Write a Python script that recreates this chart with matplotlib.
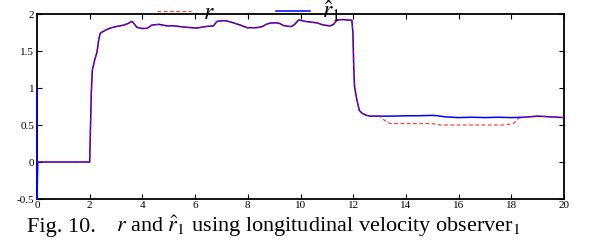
import matplotlib
matplotlib.use("Agg")
import matplotlib.pyplot as plt
import numpy as np

plt.rcParams['font.family'] = ['Liberation Serif', 'DejaVu Serif']
plt.rcParams['mathtext.fontset'] = 'stix'

# ---- data ----
# start of the estimate (observer transient at t=0)
t_start_hat = [0.0, 0.0, 0.03]
v_start_hat = [1.0, -0.5, 0.0]
t_start_r = [0.0, 0.05]
v_start_r = [0.0, 0.0]

# shared section (both signals coincide)
t_high = [2.00, 2.03, 2.06, 2.10, 2.19, 2.28, 2.34, 2.40, 2.59, 2.78, 3.00, 3.16, 3.29,
          3.45, 3.60, 3.67, 3.79, 3.98, 4.17, 4.36, 4.62, 4.93, 5.18, 5.44, 5.69, 6.07,
          6.39, 6.70, 6.83, 7.08, 7.21, 7.46, 7.72, 7.97, 8.35, 8.55, 8.70, 8.88, 9.11,
          9.22, 9.35, 9.50, 9.65, 9.78, 9.93, 10.18, 10.40, 10.63, 10.75, 10.88, 11.13,
          11.25, 11.39, 11.60, 11.77, 11.95, 11.99, 12.02, 12.05, 12.14, 12.23, 12.33,
          12.50, 12.65, 13.00]
v_high = [0.00, 0.48, 0.93, 1.24, 1.38, 1.49, 1.65, 1.74, 1.78, 1.81, 1.83, 1.84, 1.85,
          1.87, 1.90, 1.875, 1.82, 1.805, 1.805, 1.85, 1.86, 1.84, 1.84, 1.83, 1.82, 1.81,
          1.83, 1.84, 1.90, 1.91, 1.905, 1.88, 1.85, 1.815, 1.815, 1.83, 1.86, 1.88, 1.88,
          1.87, 1.845, 1.835, 1.83, 1.86, 1.92, 1.90, 1.89, 1.88, 1.865, 1.85, 1.84,
          1.86, 1.92, 1.925, 1.92, 1.915, 1.74, 1.29, 1.02, 0.84, 0.70, 0.66,
          0.63, 0.62, 0.62]

# low section: estimate r_hat_1
t_low_hat = [13.5, 14.0, 14.5, 15.0, 15.2, 15.5, 16.0, 16.5, 17.0, 17.5, 18.0, 18.5,
             19.0, 19.5, 20.0]
v_low_hat = [0.62, 0.625, 0.625, 0.63, 0.625, 0.61, 0.60, 0.605, 0.60, 0.605, 0.60,
             0.605, 0.62, 0.61, 0.60]

# low section: true r
t_low_r = [13.2, 13.4, 14.0, 15.0, 15.3, 16.0, 17.0, 17.7, 18.08, 18.27, 18.5, 19.0,
           19.5, 20.0]
v_low_r = [0.56, 0.52, 0.52, 0.52, 0.50, 0.50, 0.50, 0.50, 0.52, 0.59, 0.605, 0.62,
           0.61, 0.60]

x_ticks = [0, 2, 4, 6, 8, 10, 12, 14, 16, 18, 20]
y_ticks = [-0.5, 0, 0.5, 1, 1.5, 2]
y_tick_labels = ['-0.5', '0', '0.5', '1', '1.5', '2']

t_r = t_start_r + t_high + t_low_r
r = v_start_r + v_high + v_low_r
t_hat = t_start_hat + t_high + t_low_hat
r_hat = v_start_hat + v_high + v_low_hat

# ---- figure ----
fig = plt.figure(figsize=(5.92, 2.43), dpi=100)
ax = fig.add_axes([37/592, 1 - 199/243, (564-37)/592, (199-14)/243])

l_hat, = ax.plot(t_hat, r_hat, color='#0000ff', lw=1.1, label=r'$\hat{r}_1$', zorder=3,
                 clip_on=False)
l_r, = ax.plot(t_r, r, color='#ff0000', lw=0.9, ls=(0, (3, 2)), label=r'$r$', zorder=3.1,
               alpha=0.75)

ax.set_xlim(0, 20)
ax.set_ylim(-0.5, 2)
ax.set_xticks(x_ticks)
ax.set_xticklabels([str(v) for v in x_ticks])
ax.set_yticks(y_ticks)
ax.set_yticklabels(y_tick_labels)
ax.tick_params(direction='in', top=True, right=True, length=3.5, width=0.8,
               labelsize=8, pad=1.5)
ax.tick_params(axis='y', pad=2)
for s in ax.spines.values():
    s.set_linewidth(1.3)

fig.legend([l_r, l_hat], [r'$r$', r'$\hat{r}_1$'], loc='center', ncol=2,
           bbox_to_anchor=(0.42, 0.952), frameon=False, fontsize=17,
           handlelength=1.45, handletextpad=0.5, columnspacing=2.6,
           borderpad=0, borderaxespad=0)

fig.text(26.7/592, 1 - 232/243, 'Fig. 10.', fontsize=16, ha='left', va='baseline')
fig.text(116.5/592, 1 - 232/243,
         r'$r$ and $\hat{r}_1$ using longitudinal velocity observer$_1$',
         fontsize=16, ha='left', va='baseline')

fig.savefig('out.png', dpi=100)
